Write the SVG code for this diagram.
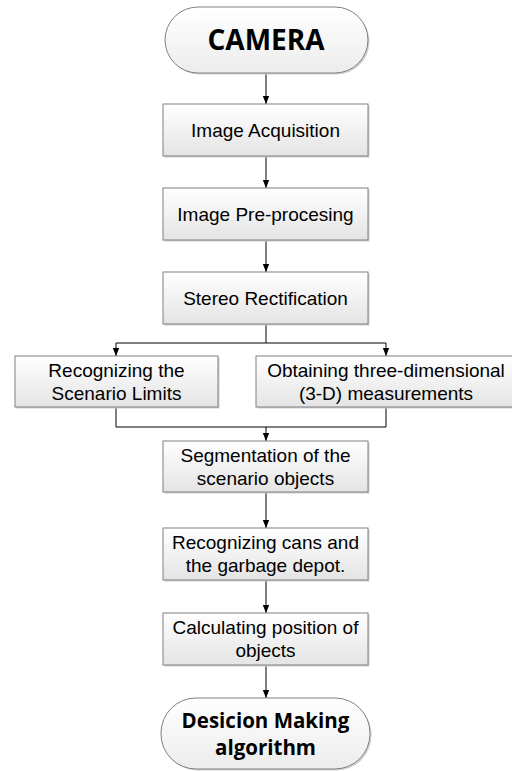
<svg xmlns="http://www.w3.org/2000/svg" width="512" height="771" viewBox="0 0 512 771">
<defs>
<linearGradient id="g" x1="0" y1="0" x2="0" y2="1">
<stop offset="0" stop-color="#ffffff"/>
<stop offset="1" stop-color="#e4e4e4"/>
</linearGradient>
<linearGradient id="gt" x1="0" y1="0" x2="0" y2="1">
<stop offset="0" stop-color="#ffffff"/>
<stop offset="1" stop-color="#ececec"/>
</linearGradient>
<marker id="arr" markerUnits="userSpaceOnUse" markerWidth="8" markerHeight="8" viewBox="0 0 8 8" refX="8" refY="4" orient="auto">
<path d="M0,0.8 L8,4 L0,7.2 Z" fill="#000"/>
</marker>
</defs>
<style>
.sh{fill:#d0d0d0;}
.box{fill:url(#g);stroke:#808080;stroke-width:1;}
.term{fill:url(#gt);stroke:#808080;stroke-width:1;}
.t{font-family:"Liberation Sans",Arial,sans-serif;font-size:19px;fill:#000;text-anchor:middle;}
.b{font-family:"Open Sans","Liberation Sans",sans-serif;font-weight:bold;fill:#000;text-anchor:middle;}
.c{fill:none;stroke:#000;stroke-width:1;}
.a{marker-end:url(#arr);}
</style>
<rect width="512" height="771" fill="#fff"/>
<g id="connectors">
<line class="c a" x1="266" y1="73" x2="266" y2="104"/>
<line class="c a" x1="266" y1="156" x2="266" y2="188"/>
<line class="c a" x1="266" y1="240" x2="266" y2="272"/>
<line class="c" x1="266" y1="324" x2="266" y2="343"/>
<line class="c" x1="116" y1="343" x2="386" y2="343"/>
<line class="c a" x1="116" y1="343" x2="116" y2="356"/>
<line class="c a" x1="386" y1="343" x2="386" y2="356"/>
<line class="c" x1="116" y1="407" x2="116" y2="427"/>
<line class="c" x1="386" y1="407" x2="386" y2="427"/>
<line class="c" x1="116" y1="427" x2="386" y2="427"/>
<line class="c a" x1="266" y1="427" x2="266" y2="441"/>
<line class="c a" x1="266" y1="492" x2="266" y2="528"/>
<line class="c a" x1="266" y1="580" x2="266" y2="613"/>
<line class="c a" x1="266" y1="665" x2="266" y2="698"/>
</g>
<g id="camera">
<rect class="sh" x="166.5" y="8.5" width="203" height="66" rx="33"/>
<rect class="term" x="165" y="7" width="203" height="66" rx="33"/>
<text class="b" x="266" y="50" font-size="28">CAMERA</text>
</g>
<g id="acquisition">
<rect class="sh" x="164.5" y="105.5" width="205" height="52"/>
<rect class="box" x="163" y="104" width="205" height="52"/>
<text class="t" x="265.5" y="137">Image Acquisition</text>
</g>
<g id="preprocessing">
<rect class="sh" x="164.5" y="189.5" width="205" height="52"/>
<rect class="box" x="163" y="188" width="205" height="52"/>
<text class="t" x="265.5" y="221">Image Pre-procesing</text>
</g>
<g id="rectification">
<rect class="sh" x="164.5" y="273.5" width="205" height="52"/>
<rect class="box" x="163" y="272" width="205" height="52"/>
<text class="t" x="265.5" y="305">Stereo Rectification</text>
</g>
<g id="limits">
<rect class="sh" x="16.5" y="357.5" width="203" height="51"/>
<rect class="box" x="15" y="356" width="203" height="51"/>
<text class="t" x="116.5" y="377">Recognizing the</text>
<text class="t" x="116.5" y="400">Scenario Limits</text>
</g>
<g id="measurements">
<rect class="sh" x="257.5" y="357.5" width="260" height="51"/>
<rect class="box" x="256" y="356" width="260" height="51"/>
<text class="t" x="386" y="377">Obtaining three-dimensional</text>
<text class="t" x="386" y="400">(3-D) measurements</text>
</g>
<g id="segmentation">
<rect class="sh" x="164.5" y="442.5" width="205" height="51"/>
<rect class="box" x="163" y="441" width="205" height="51"/>
<text class="t" x="265.5" y="462">Segmentation of the</text>
<text class="t" x="265.5" y="485">scenario objects</text>
</g>
<g id="recognizing">
<rect class="sh" x="164.5" y="529.5" width="205" height="52"/>
<rect class="box" x="163" y="528" width="205" height="52"/>
<text class="t" x="265.5" y="549">Recognizing cans and</text>
<text class="t" x="265.5" y="572">the garbage depot.</text>
</g>
<g id="calculating">
<rect class="sh" x="164.5" y="614.5" width="205" height="52"/>
<rect class="box" x="163" y="613" width="205" height="52"/>
<text class="t" x="265.5" y="634">Calculating position of</text>
<text class="t" x="265.5" y="657">objects</text>
</g>
<g id="decision">
<rect class="sh" x="162.5" y="699.5" width="209" height="71" rx="35"/>
<rect class="term" x="161" y="698" width="209" height="71" rx="35"/>
<text class="b" x="265.5" y="728" font-size="20.5">Desicion Making</text>
<text class="b" x="265.5" y="755" font-size="20.5">algorithm</text>
</g>
</svg>
